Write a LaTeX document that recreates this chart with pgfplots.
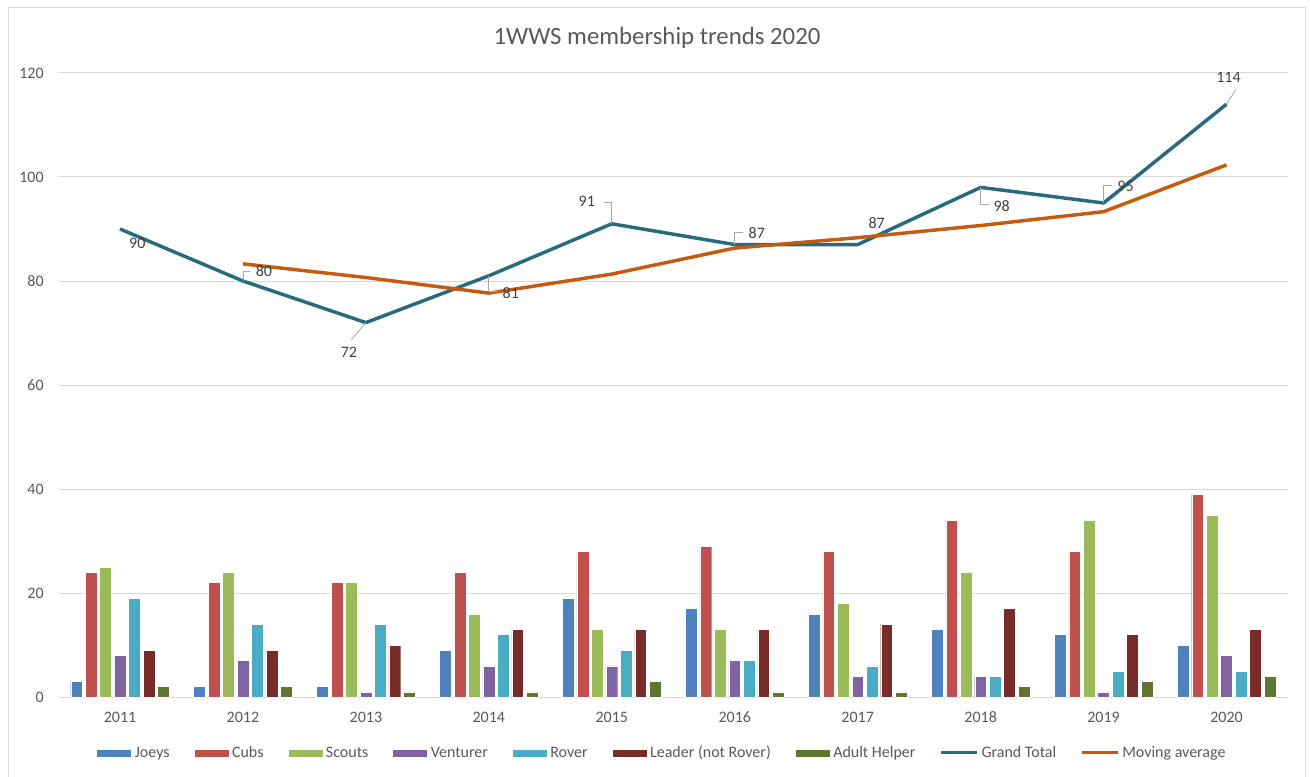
\documentclass[border=0pt]{standalone}
\usepackage{pgfplots}
\pgfplotsset{compat=1.18}
\usepackage{fontspec}
\setmainfont{Carlito}
\definecolor{cJoeys}{HTML}{4F81BD}
\definecolor{cCubs}{HTML}{C0504D}
\definecolor{cScouts}{HTML}{9BBB59}
\definecolor{cVent}{HTML}{8064A2}
\definecolor{cRover}{HTML}{4BACC6}
\definecolor{cLeader}{HTML}{772C2A}
\definecolor{cAdult}{HTML}{5F7530}
\definecolor{cTotal}{HTML}{276B7C}
\definecolor{cAvg}{HTML}{C55A11}
\definecolor{txt}{HTML}{595959}
\definecolor{lbl}{HTML}{404040}
\definecolor{gridc}{HTML}{D9D9D9}
\definecolor{lead}{HTML}{A6A6A6}

\pgfplotstableread{
x Joeys Cubs Scouts Venturer Rover Leader Adult Total
0 3  24 25 8 19 9  2 90
1 2  22 24 7 14 9  2 80
2 2  22 22 1 14 10 1 72
3 9  24 16 6 12 13 1 81
4 19 28 13 6 9  13 3 91
5 17 29 13 7 7  13 1 87
6 16 28 18 4 6  14 1 87
7 13 34 24 4 4  17 2 98
8 12 28 34 1 5  12 3 95
9 10 39 35 8 5  13 4 114
}\datatable

\pgfplotstableread{
x Avg
1 83.3
2 80.67
3 77.67
4 81.33
5 86.33
6 88.33
7 90.67
8 93.33
9 102.33
}\avgtable

\pgfplotsset{
  barleg/.style={legend image code/.code={\fill[##1] (0pt,-3pt) rectangle (26.25pt,3pt);}},
  lineleg/.style={legend image code/.code={\draw[##1, line width=2.25pt] (0pt,0pt) -- (27pt,0pt);}},
  mybar/.style={fill=#1, draw=white, line width=0.3pt, barleg},
}

\begin{document}
\begin{tikzpicture}
\path[use as bounding box] (0,0) rectangle (982.5pt,582pt);
\draw[gridc, line width=0.75pt] (6pt,-2pt) -- (6pt,576pt) -- (978.75pt,576pt) -- (978.75pt,-2pt);
\node[font=\fontsize{18.6}{22}\selectfont, text=txt] at (492.75pt,553.5pt) {1WWS membership trends 2020};
\begin{axis}[
  at={(43.9pt,59.25pt)}, anchor=south west,
  scale only axis, width=922.1pt, height=468pt,
  xmin=-0.5, xmax=9.5, ymin=0, ymax=120,
  ybar=2pt, bar width=8.85pt,
  axis line style={draw=none},
  major tick length=0pt,
  ymajorgrids, major grid style={gridc, line width=0.75pt},
  ytick={0,20,...,120},
  xtick={0,...,9},
  xticklabels={2011,2012,2013,2014,2015,2016,2017,2018,2019,2020},
  /pgf/number format/assume math mode=true,
  tick label style={font=\fontsize{12}{14}\selectfont, text=txt},
  yticklabel style={xshift=-7.6pt},
  xticklabel style={yshift=-7.5pt},
  legend columns=9,
  legend style={at={(0.49,-0.0897)}, anchor=center, draw=none, fill=none,
    font=\fontsize{12}{14}\selectfont, text=txt, inner sep=0pt,
    nodes={inner sep=0pt},
    /tikz/every odd column/.append style={column sep=2.25pt},
    /tikz/every even column/.append style={column sep=18pt}},
  legend cell align=left,
]
\addplot[mybar=cJoeys] table[x=x,y=Joeys]{\datatable};
\addplot[mybar=cCubs] table[x=x,y=Cubs]{\datatable};
\addplot[mybar=cScouts] table[x=x,y=Scouts]{\datatable};
\addplot[mybar=cVent] table[x=x,y=Venturer]{\datatable};
\addplot[mybar=cRover] table[x=x,y=Rover]{\datatable};
\addplot[mybar=cLeader] table[x=x,y=Leader]{\datatable};
\addplot[mybar=cAdult] table[x=x,y=Adult]{\datatable};
\addplot[sharp plot, no marks, draw=cTotal, line width=2.6pt, line join=round, lineleg] table[x=x,y=Total]{\datatable};
\addplot[sharp plot, no marks, draw=cAvg, line width=2.6pt, line join=round, lineleg] table[x=x,y=Avg]{\avgtable};
\legend{Joeys,Cubs,Scouts,Venturer,Rover,Leader (not Rover),Adult Helper,Grand Total,Moving average}

% leader lines
\draw[lead, line width=0.6pt] (axis cs:1,80) -- ++(0pt,7pt) -- ++(5pt,0pt);
\draw[lead, line width=0.6pt] (axis cs:2,72) -- ++(-11pt,-13pt);
\draw[lead, line width=0.6pt] (axis cs:3,81) -- ++(0pt,-12pt) -- ++(7pt,0pt);
\draw[lead, line width=0.6pt] (axis cs:4,91) -- ++(0pt,16pt) -- ++(-6pt,0pt);
\draw[lead, line width=0.6pt] (axis cs:5,87) -- ++(0pt,9pt) -- ++(6pt,0pt);
\draw[lead, line width=0.6pt] (axis cs:7,98) -- ++(0pt,-13pt) -- ++(6pt,0pt);
\draw[lead, line width=0.6pt] (axis cs:8,95) -- ++(0pt,13pt) -- ++(6pt,0pt);
\draw[lead, line width=0.6pt] (axis cs:9,114) -- ++(7pt,11pt);
% data labels
\begin{scope}[every node/.style={font=\fontsize{12}{14}\selectfont, text=lbl, inner sep=0pt}]
\node at (axis cs:0,90)  [xshift=13pt,   yshift=-10.5pt] {90};
\node at (axis cs:1,80)  [xshift=15.75pt,yshift=7.5pt]   {80};
\node at (axis cs:2,72)  [xshift=-12.75pt,yshift=-22.5pt] {72};
\node at (axis cs:3,81)  [xshift=16.5pt, yshift=-12.75pt]{81};
\node at (axis cs:4,91)  [xshift=-18.75pt,yshift=16.5pt] {91};
\node at (axis cs:5,87)  [xshift=16.5pt, yshift=9pt]     {87};
\node at (axis cs:6,87)  [xshift=14.25pt,yshift=16.5pt]  {87};
\node at (axis cs:7,98)  [xshift=15.75pt,yshift=-14.25pt]{98};
\node at (axis cs:8,95)  [xshift=16.5pt, yshift=12.75pt] {95};
\node at (axis cs:9,114) [xshift=1.5pt,  yshift=20.25pt] {114};
\end{scope}
\end{axis}
\end{tikzpicture}
\end{document}
